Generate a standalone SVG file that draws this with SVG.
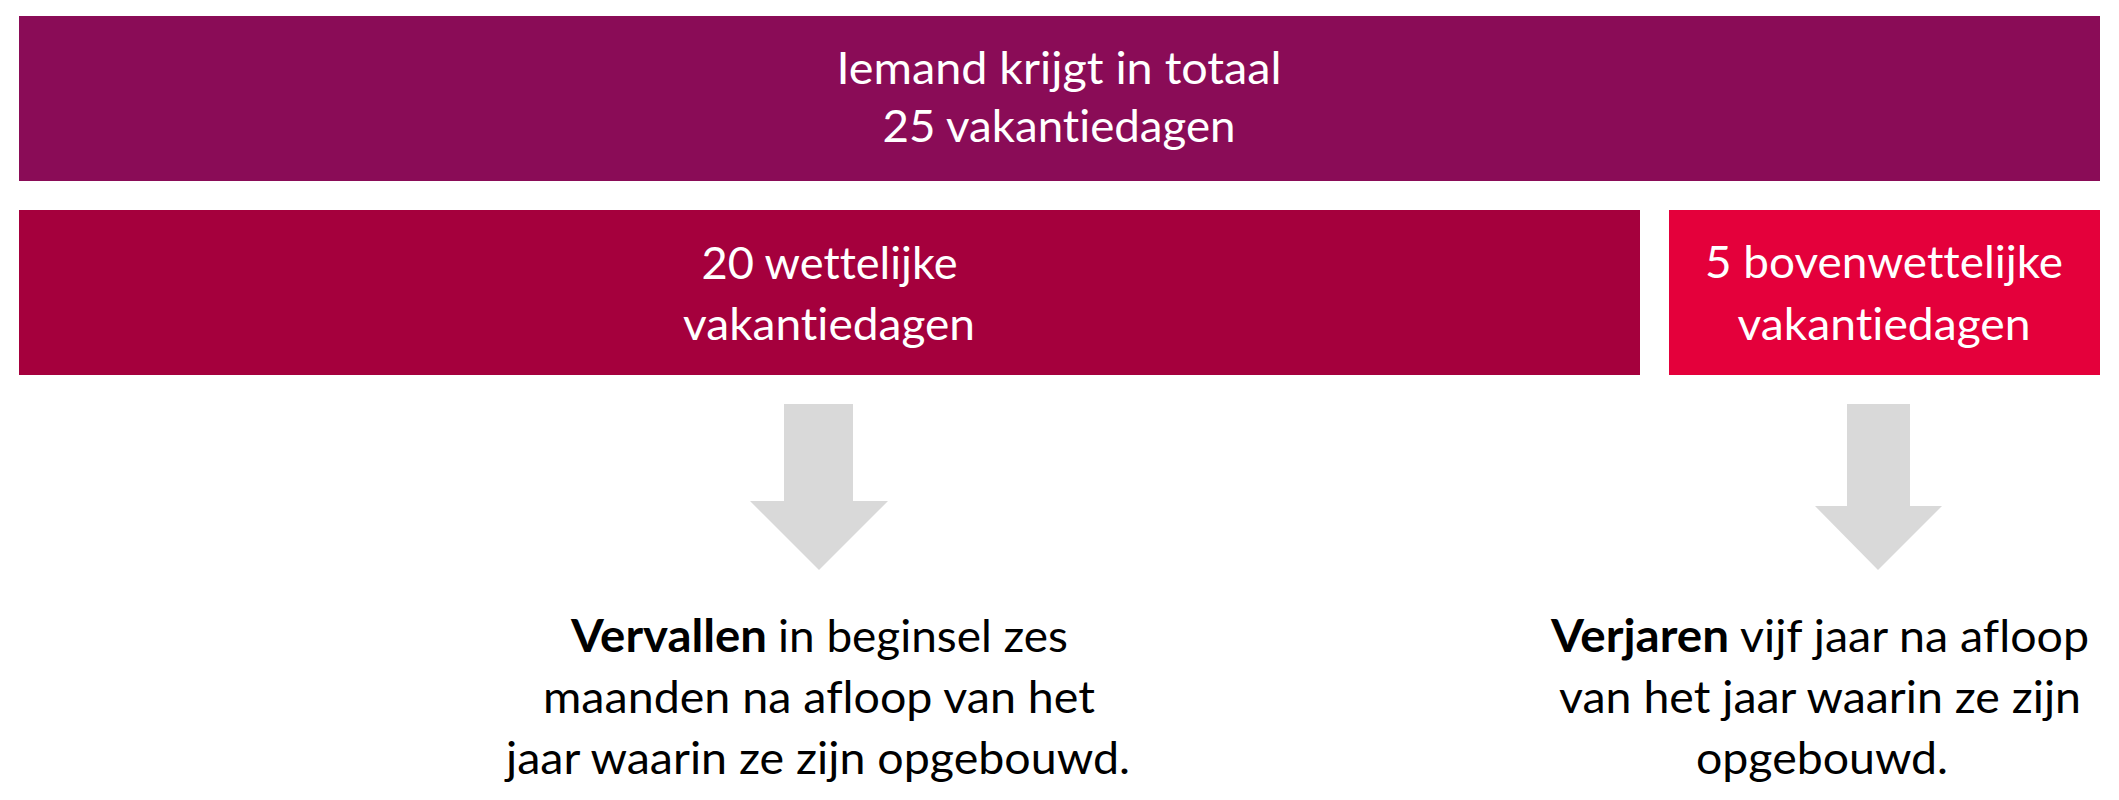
<svg xmlns="http://www.w3.org/2000/svg" width="2119" height="800" viewBox="0 0 2119 800">
<style>
  .t { font-family: Lato, "Open Sans", sans-serif; font-size: 45px; font-variant-ligatures: none; font-feature-settings: "liga" 0, "clig" 0; }
  .w { fill: #FFFFFF; }
  .k { fill: #000000; }
  .b { font-weight: bold; }
  .arrow { fill: #D9D9D9; }
</style>
<rect width="2119" height="800" fill="#FFFFFF"/>
<g id="node-total">
  <rect x="19" y="16" width="2081" height="165" fill="#8A0C57"/>
  <text class="t w" x="1059" y="84" text-anchor="middle" textLength="445" lengthAdjust="spacingAndGlyphs">Iemand krijgt in totaal</text>
  <text class="t w" x="1059" y="142" text-anchor="middle" textLength="353" lengthAdjust="spacingAndGlyphs">25 vakantiedagen</text>
</g>
<g id="node-wettelijk">
  <rect x="19" y="210" width="1621" height="165" fill="#A5003D"/>
  <text class="t w" x="829.5" y="279" text-anchor="middle" textLength="256" lengthAdjust="spacingAndGlyphs">20 wettelijke</text>
  <text class="t w" x="829" y="340" text-anchor="middle" textLength="292" lengthAdjust="spacingAndGlyphs">vakantiedagen</text>
</g>
<g id="node-bovenwettelijk">
  <rect x="1669" y="210" width="431" height="165" fill="#E4003B"/>
  <text class="t w" x="1884" y="278" text-anchor="middle" textLength="358" lengthAdjust="spacingAndGlyphs">5 bovenwettelijke</text>
  <text class="t w" x="1884" y="340" text-anchor="middle" textLength="293" lengthAdjust="spacingAndGlyphs">vakantiedagen</text>
</g>
<g id="connectors">
  <polygon class="arrow" points="784,404 853,404 853,501 888,501 819,570 750,501 784,501"/>
  <polygon class="arrow" points="1847,404 1910,404 1910,506 1942,506 1878,570 1815,506 1847,506"/>
</g>
<g id="node-vervallen">
  <text class="t k b" x="571" y="652" textLength="196" lengthAdjust="spacingAndGlyphs">Vervallen</text>
  <text class="t k" x="778" y="652" textLength="290" lengthAdjust="spacingAndGlyphs">in beginsel zes</text>
  <text class="t k" x="819" y="713" text-anchor="middle" textLength="552" lengthAdjust="spacingAndGlyphs">maanden na afloop van het</text>
  <text class="t k" x="818" y="774" text-anchor="middle" textLength="624" lengthAdjust="spacingAndGlyphs">jaar waarin ze zijn opgebouwd.</text>
</g>
<g id="node-verjaren">
  <text class="t k b" x="1551" y="652" textLength="178" lengthAdjust="spacingAndGlyphs">Verjaren</text>
  <text class="t k" x="1740" y="652" textLength="349" lengthAdjust="spacingAndGlyphs">vijf jaar na afloop</text>
  <text class="t k" x="1820" y="713" text-anchor="middle" textLength="522" lengthAdjust="spacingAndGlyphs">van het jaar waarin ze zijn</text>
  <text class="t k" x="1822" y="774" text-anchor="middle" textLength="252" lengthAdjust="spacingAndGlyphs">opgebouwd.</text>
</g>
</svg>
